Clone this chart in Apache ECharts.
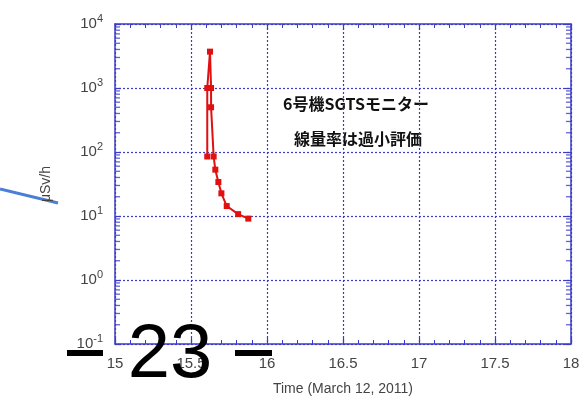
<!DOCTYPE html>
<html><head><meta charset="utf-8">
<script src="https://cdn.jsdelivr.net/npm/echarts@6/dist/echarts.min.js"></script>
<style>html,body{margin:0;padding:0;background:#fff}#c{width:585px;height:406px}</style>
</head><body><div id="c"></div>
<script>
// Data
var timeX = [15.607, 15.607, 15.625, 15.632, 15.632, 15.649, 15.66, 15.68, 15.70, 15.735, 15.81, 15.877];
var doseRate = [85, 1000, 3700, 1000, 500, 85, 53, 34, 22.6, 14.3, 10.7, 9.1];
var xTicks = [15, 15.5, 16, 16.5, 17, 17.5, 18];
var yDecades = [0.1, 1, 10, 100, 1000];
var yMinorMult = [2, 3, 4, 5, 6, 7, 8, 9];
var note1 = '6号機SGTSモニター';
var note2 = '線量率は過小評価';

var pts = timeX.map(function (x, i) { return [x, doseRate[i]]; });
var minorL = [], minorR = [];
yDecades.forEach(function (d) { yMinorMult.forEach(function (m) { minorL.push([15, m * d]); minorR.push([18, m * d]); }); });

var AX = '#3c3cc8';
var font = 'Liberation Sans, Arial, sans-serif';
var chart = echarts.init(document.getElementById('c'));
var common = {
  axisLine: { show: true, lineStyle: { color: AX, width: 1.5 } },
  axisTick: { show: true, inside: true, length: 6, lineStyle: { color: AX, width: 1.2 } }
};
function minorSeries(data, off) {
  return { type: 'scatter', data: data, symbol: 'rect', symbolSize: [5, 1.3], symbolOffset: [off, 0],
    itemStyle: { color: AX }, silent: true, clip: false, z: 3 };
}
chart.setOption({
  animation: false,
  grid: { left: 115, right: 14, top: 24, bottom: 62 },
  xAxis: [
    Object.assign({
      type: 'value', min: 15, max: 18, interval: 0.5, position: 'bottom',
      name: 'Time (March 12, 2011)', nameLocation: 'middle', nameGap: 38,
      nameTextStyle: { color: '#444', fontSize: 14, fontFamily: font },
      axisLabel: { color: '#444', fontSize: 15, fontFamily: font, margin: 12,
        formatter: function (v) { return xTicks.indexOf(v) >= 0 ? String(v) : ''; } },
      minorTick: { show: true, splitNumber: 5, length: 4, lineStyle: { color: AX } },
      splitLine: { show: true, lineStyle: { color: AX, type: [2, 2], width: 1.2 } }
    }, common),
    Object.assign({
      type: 'value', min: 15, max: 18, interval: 0.5, position: 'top',
      axisLabel: { show: false }, splitLine: { show: false },
      minorTick: { show: true, splitNumber: 5, length: 4, lineStyle: { color: AX } }
    }, common)
  ],
  yAxis: [
    Object.assign({
      type: 'log', logBase: 10, min: 0.1, max: 10000, position: 'left',
      name: 'μSv/h', nameLocation: 'middle', nameGap: 62, nameRotate: 90,
      nameTextStyle: { color: '#444', fontSize: 14, fontFamily: font },
      axisLabel: { margin: 12, fontFamily: font,
        formatter: function (v) { var e = Math.round(Math.log10(v)); return '{b|10}{s|' + e + '}'; },
        rich: { b: { fontSize: 15, color: '#444', fontFamily: font },
                s: { fontSize: 11, color: '#444', fontFamily: font, verticalAlign: 'top', padding: [0, 0, 10, 0] } } },
      splitLine: { show: true, lineStyle: { color: AX, type: [2, 2], width: 1.2 } }
    }, common),
    Object.assign({
      type: 'log', logBase: 10, min: 0.1, max: 10000, position: 'right',
      axisLabel: { show: false }, splitLine: { show: false }
    }, common)
  ],
  series: [
    {
      type: 'line', data: pts, xAxisIndex: 0, yAxisIndex: 0,
      symbol: 'rect', symbolSize: 6, z: 5,
      lineStyle: { color: '#e01010', width: 2 },
      itemStyle: { color: '#e01010' }
    },
    minorSeries(minorL, 2.5),
    minorSeries(minorR, -2.5)
  ],
  graphic: [
    { type: 'text', style: { text: note1, x: 356, y: 104, align: 'center', verticalAlign: 'middle', fontSize: 16, fontWeight: 'bold', fill: '#111', fontFamily: 'Noto Sans CJK JP' } },
    { type: 'text', style: { text: note2, x: 358, y: 139, align: 'center', verticalAlign: 'middle', fontSize: 16, fontWeight: 'bold', fill: '#111', fontFamily: 'Noto Sans CJK JP' } },
    { type: 'line', shape: { x1: 0, y1: 189, x2: 58, y2: 203 }, style: { stroke: '#4a7fd4', lineWidth: 3 } },
    { type: 'text', z: 100, style: { text: '23', x: 170, y: 356, align: 'center', verticalAlign: 'middle', fontSize: 76, fill: '#000', fontFamily: 'Liberation Sans, Arial, sans-serif' } },
    { type: 'rect', z: 100, shape: { x: 67, y: 350, width: 36, height: 6 }, style: { fill: '#000' } },
    { type: 'rect', z: 100, shape: { x: 235, y: 350, width: 37, height: 6 }, style: { fill: '#000' } }
  ]
});
</script></body></html>
